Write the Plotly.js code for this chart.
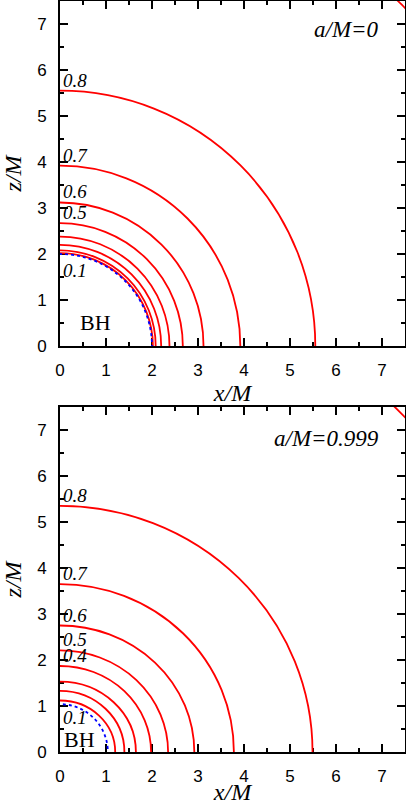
<!DOCTYPE html>
<html>
<head>
<meta charset="utf-8">
<script src="https://cdn.plot.ly/plotly-3.0.1.min.js"></script>
<style>
  html, body { margin: 0; padding: 0; background: #fff; }
  #plot { width: 406px; height: 805px; }
</style>
</head>
<body>
<div id="plot"></div>
<script>
// redshift factor levels (0.9 only shows up in the far corner)
const levels = [0.1, 0.2, 0.3, 0.4, 0.5, 0.6, 0.7, 0.8, 0.9];

// a/M = 0 : radii of the level curves on the x and z axes
const topXRadius = [2.02, 2.08, 2.20, 2.38, 2.67, 3.12, 3.92, 5.55, 10.5];
const topZRadius = [2.02, 2.08, 2.20, 2.38, 2.67, 3.12, 3.92, 5.55, 10.5];
const topHorizon = [2.0, 2.0];   // x, z
const topLabeled = [0.1, 0.5, 0.6, 0.7, 0.8];

// a/M = 0.999
const botXRadius = [1.20, 1.40, 1.65, 1.98, 2.35, 2.92, 3.78, 5.49, 10.45];
const botZRadius = [1.12, 1.33, 1.53, 1.87, 2.21, 2.75, 3.65, 5.35, 10.45];
const botHorizon = [1.04, 1.04];
const botLabeled = [0.1, 0.4, 0.5, 0.6, 0.7, 0.8];

const xTicks = [0, 1, 2, 3, 4, 5, 6, 7];

const serif = 'Liberation Serif, Times New Roman, serif';
const sans = 'Liberation Sans, Arial, sans-serif';

function levelShapes(xr, zr, horizon, xref, yref) {
    const shapes = [];
    for (let i = 0; i < levels.length; i++) {
        shapes.push({
            type: 'circle', xref, yref,
            x0: -xr[i], x1: xr[i], y0: -zr[i], y1: zr[i],
            line: {color: 'rgb(255,0,0)', width: 1.8},
        });
    }
    shapes.push({
        type: 'circle', xref, yref,
        x0: -horizon[0], x1: horizon[0], y0: -horizon[1], y1: horizon[1],
        line: {color: 'rgb(0,0,255)', width: 1.8, dash: 'dot'},
    });
    return shapes;
}

function levelLabels(zr, labeled, xref, yref) {
    return labeled.map(v => {
        const i = levels.indexOf(v);
        const low = v === 0.1;
        return {
            xref, yref, x: 0, y: zr[i],
            text: v.toFixed(1),
            showarrow: false,
            xanchor: 'left',
            yanchor: low ? 'top' : 'bottom',
            xshift: 1,
            yshift: low ? -5 : -2,
            font: {family: serif, size: 19, style: 'italic', color: '#000'},
        };
    });
}

function axis(domain, anchor, title, standoff) {
    return {
        domain,
        anchor,
        range: [0, 7.5],
        tickvals: xTicks,
        ticks: 'inside',
        ticklen: 8,
        tickwidth: 1.5,
        tickcolor: '#000',
        ticklabelstandoff: 8,
        minor: {dtick: 0.5, ticks: 'inside', ticklen: 4, tickwidth: 1.5, tickcolor: '#000'},
        showline: true,
        linewidth: 2,
        linecolor: '#000',
        mirror: 'ticks',
        showgrid: false,
        zeroline: false,
        tickfont: {family: sans, size: 17, color: '#000'},
        title: {text: title, standoff, font: {family: serif, size: 24, style: 'italic', color: '#000'}},
    };
}

const data = [
    {x: [], y: [], xaxis: 'x', yaxis: 'y', type: 'scatter', showlegend: false},
    {x: [], y: [], xaxis: 'x2', yaxis: 'y2', type: 'scatter', showlegend: false},
];

const annotations = [
    ...levelLabels(topZRadius, topLabeled, 'x', 'y'),
    ...levelLabels(botZRadius, botLabeled, 'x2', 'y2'),
    {xref: 'x', yref: 'y', x: 0.78, y: 0.52, text: 'BH', showarrow: false,
        font: {family: serif, size: 22, color: '#000'}},
    {xref: 'x2', yref: 'y2', x: 0.43, y: 0.27, text: 'BH', showarrow: false,
        font: {family: serif, size: 22, color: '#000'}},
    {xref: 'x', yref: 'y', x: 6.98, y: 6.88, text: 'a/M=0', showarrow: false,
        xanchor: 'right', yanchor: 'middle',
        font: {family: serif, size: 23, style: 'italic', color: '#000'}},
    {xref: 'x2', yref: 'y2', x: 6.98, y: 6.82, text: 'a/M=0.999', showarrow: false,
        xanchor: 'right', yanchor: 'middle',
        font: {family: serif, size: 23, style: 'italic', color: '#000'}},
];

const layout = {
    width: 406,
    height: 805,
    margin: {l: 60, r: 1, t: 1, b: 53},
    paper_bgcolor: '#fff',
    plot_bgcolor: '#fff',
    showlegend: false,
    xaxis: axis([0, 1], 'y', 'x/M', 5),
    yaxis: axis([0.5406, 1], 'x', 'z/M', 10),
    xaxis2: axis([0, 1], 'y2', 'x/M', 5),
    yaxis2: axis([0, 0.4594], 'x2', 'z/M', 10),
    shapes: [
        ...levelShapes(topXRadius, topZRadius, topHorizon, 'x', 'y'),
        ...levelShapes(botXRadius, botZRadius, botHorizon, 'x2', 'y2'),
    ],
    annotations,
};

Plotly.newPlot('plot', data, layout, {displayModeBar: false, staticPlot: true});
</script>
</body>
</html>
